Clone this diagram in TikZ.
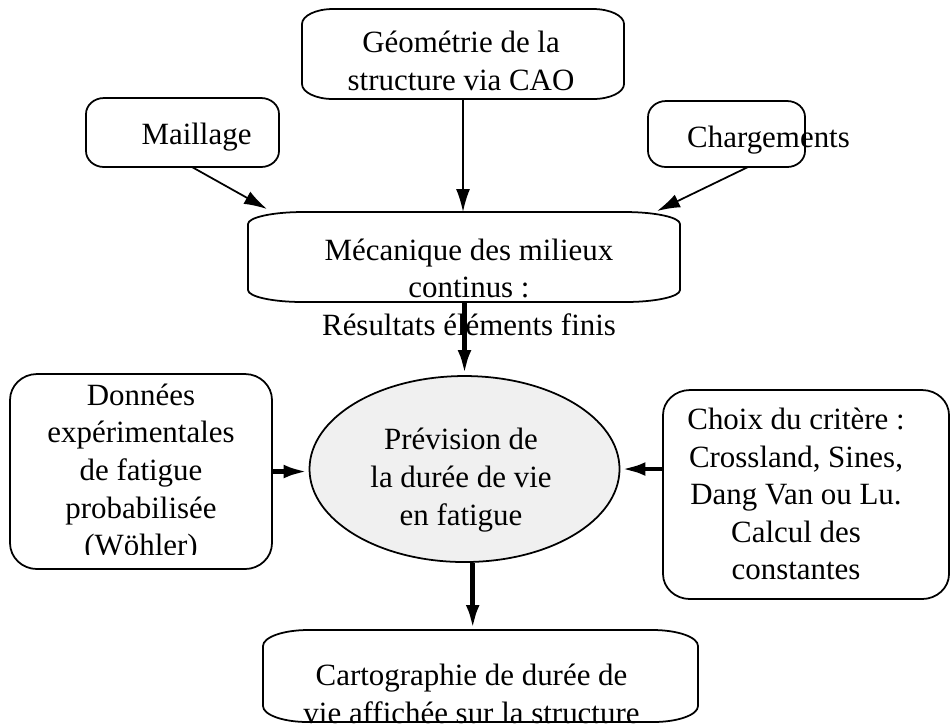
\documentclass[tikz,border=0pt]{standalone}
\usepackage{fontspec}
\setmainfont{Liberation Serif}
\usetikzlibrary{arrows.meta,calc,shapes.geometric}
\definecolor{ellgray}{RGB}{240,240,240}
% outline with elliptic corners round a box node: node, x radius, y radius
\newcommand{\eboxline}[3]{%
  \draw[line width=0.5pt] ($(#1.north west)+(#2,0)$) -- ($(#1.north east)+(-#2,0)$)
    arc[start angle=90,end angle=0,x radius=#2,y radius=#3]
    -- ($(#1.south east)+(0,#3)$)
    arc[start angle=0,end angle=-90,x radius=#2,y radius=#3]
    -- ($(#1.south west)+(#2,0)$)
    arc[start angle=270,end angle=180,x radius=#2,y radius=#3]
    -- ($(#1.north west)+(0,-#3)$)
    arc[start angle=180,end angle=90,x radius=#2,y radius=#3] -- cycle;}

\begin{document}
\begin{tikzpicture}[>=Latex,
  boxnode/.style={inner sep=0pt,outer sep=0pt},
  txt/.style={align=center,inner sep=0pt,font=\fontsize{8.8}{10.7}\selectfont},
  lien/.style={line width=0.5pt,-{Latex[length=2.3mm,width=1.4mm]}},
  lienfort/.style={line width=1.4pt,-{Latex[length=2.5mm,width=1.35mm]}}]
  \useasboundingbox (0,0) rectangle (9.51,-7.26);
  % boxes
  \node[boxnode,minimum width=3.22cm,minimum height=0.90cm] (geo) at (4.63,-0.54) {};
  \node[boxnode,minimum width=1.93cm,minimum height=0.69cm] (maill) at (1.825,-1.325) {};
  \node[boxnode,minimum width=1.57cm,minimum height=0.66cm] (charg) at (7.265,-1.34) {};
  \node[boxnode,minimum width=4.32cm,minimum height=0.90cm] (mec) at (4.64,-2.57) {};
  \node[boxnode,minimum width=2.62cm,minimum height=1.95cm] (donn) at (1.41,-4.715) {};
  \node[boxnode,minimum width=2.86cm,minimum height=2.09cm] (choix) at (8.06,-4.945) {};
  \node[boxnode,minimum width=4.35cm,minimum height=0.92cm] (carto) at (4.805,-6.76) {};
  \eboxline{geo}{0.31}{0.15}
  \eboxline{maill}{0.18}{0.16}
  \eboxline{charg}{0.18}{0.16}
  \eboxline{mec}{0.55}{0.12}
  \eboxline{donn}{0.27}{0.26}
  \eboxline{choix}{0.27}{0.25}
  \eboxline{carto}{0.45}{0.16}
  % central ellipse
  \node[draw,line width=0.5pt,ellipse,fill=ellgray,inner sep=0pt,
        minimum width=3.10cm,minimum height=1.86cm] (prev) at (4.645,-4.69) {};
  % texts
  \node[txt] (geotxt) at (4.61,-0.61) {Géométrie de la\\structure via CAO};
  \node[txt] (mailltxt) at (1.965,-1.37) {Maillage};
  \node[txt] (chargtxt) at (7.685,-1.40) {Chargements};
  \node[txt] (mectxt) at (4.69,-2.87) {Mécanique des milieux\\continus :\\Résultats éléments finis};
  \node[txt] (prevtxt) at (4.61,-4.80) {Prévision de\\la durée de vie\\en fatigue};
  \begin{scope}
    \clip (0,-3.6) rectangle (2.9,-5.54);
    \node[txt] (donntxt) at (1.41,-4.73) {Données\\expérimentales\\de fatigue\\probabilisée\\(Wöhler)};
  \end{scope}
  \node[txt] (choixtxt) at (7.96,-4.94) {Choix du critère :\\Crossland, Sines,\\Dang Van ou Lu.\\Calcul des\\constantes};
  \node[txt] (cartotxt) at (4.715,-6.94) {Cartographie de durée de\\vie affichée sur la structure};
  % inputs to the FE model
  \draw[lien] (geo.south) -- (geo.south |- mec.north);
  \draw[lien] ($(maill.south)+(0.095,0)$) -- ($(mec.north west)+(0.19,0.03)$);
  \draw[lien] ($(charg.south)+(0.215,0)$) -- ($(mec.north east)+(-0.23,0.01)$);
  % towards the fatigue life prediction
  \draw[lienfort] (prev.north |- mec.south) -- (prev.north);
  \draw[lienfort] (donn.east) -- (prev.west |- donn.east);
  \draw[lienfort] (choix.west |- prev.east) -- (prev.east);
  \draw[lienfort] (prev.-85) -- (prev.-85 |- carto.north);
\end{tikzpicture}
\end{document}
